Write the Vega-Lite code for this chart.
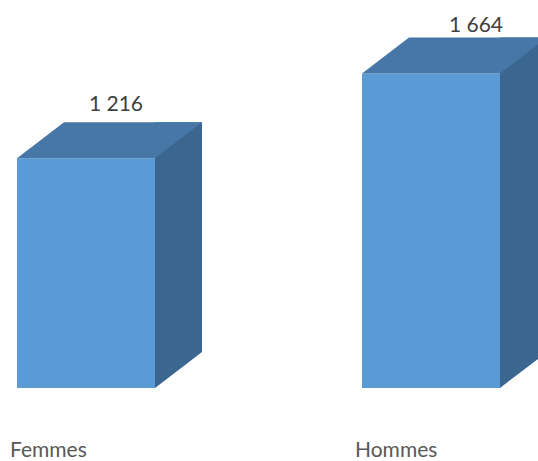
{
  "$schema": "https://vega.github.io/schema/vega-lite/v6.json",
  "width": 538,
  "height": 461,
  "padding": 0,
  "autosize": "none",
  "background": "white",
  "config": {
    "view": {"stroke": null},
    "locale": {"number": {"decimal": ",", "thousands": "\u00a0", "grouping": [3], "currency": ["", " €"]}}
  },
  "data": {"values": [
    {"sexe": "Femmes", "effectif": 1216},
    {"sexe": "Hommes", "effectif": 1664}
  ]},
  "resolve": {"scale": {"x": "independent", "y": "independent"}},
  "layer": [
    {
      "encoding": {
        "x": {"field": "sexe", "type": "nominal", "scale": {"domain": ["Femmes", "Hommes"], "range": [17, 500], "paddingInner": 0.6, "paddingOuter": 0}, "axis": {"title": null, "orient": "bottom", "offset": -5, "domain": false, "ticks": false, "tickSize": 0, "labelPadding": 0, "labelAlign": "left", "labelBaseline": "alphabetic", "labelOffset": -76, "labelFont": "Lato", "labelFontSize": 21, "labelColor": "#595959", "labelAngle": 0, "labelFlush": false, "labelOverlap": false}},
        "y": {"field": "effectif", "type": "quantitative", "scale": {"domain": [0, 2000], "range": [388, 10]}, "axis": null}
      },
      "layer": [
        {
          "mark": {"type": "bar", "color": "#3A6690", "width": 47, "xOffset": 92.5, "yOffset": -36, "y2Offset": -36},
          "encoding": {"y2": {"datum": 0}}
        },
        {
          "mark": {"type": "point", "filled": true, "opacity": 1, "color": "#3A6690", "strokeWidth": 0, "size": 2209, "shape": "M-1,-0.766L-1,0.766L1,-0.766Z", "xOffset": 92.5, "yOffset": -18},
          "encoding": {"y": {"datum": 0, "type": "quantitative"}}
        },
        {
          "mark": {"type": "bar", "color": "#5B9BD5"},
          "encoding": {"y2": {"datum": 0}}
        },
        {
          "mark": {"type": "point", "filled": true, "opacity": 1, "color": "#4677A6", "strokeWidth": 0, "size": 34225, "shape": "M-1,0.1946L0.4919,0.1946L1,-0.1946L-0.4919,-0.1946Z", "xOffset": 23.5, "yOffset": -18}
        }
      ]
    },
    {
      "mark": {"type": "text", "font": "Lato", "fontSize": 21, "color": "#404040", "align": "center", "baseline": "alphabetic"},
      "encoding": {
        "x": {"field": "sexe", "type": "nominal", "scale": {"type": "point", "domain": ["Femmes", "Hommes"], "range": [116, 476], "padding": 0}, "axis": null},
        "y": {"field": "effectif", "type": "quantitative", "scale": {"domain": [0, 2000], "range": [325.4, -27.3]}, "axis": null},
        "text": {"field": "effectif", "type": "quantitative", "format": ",d"}
      }
    }
  ]
}
